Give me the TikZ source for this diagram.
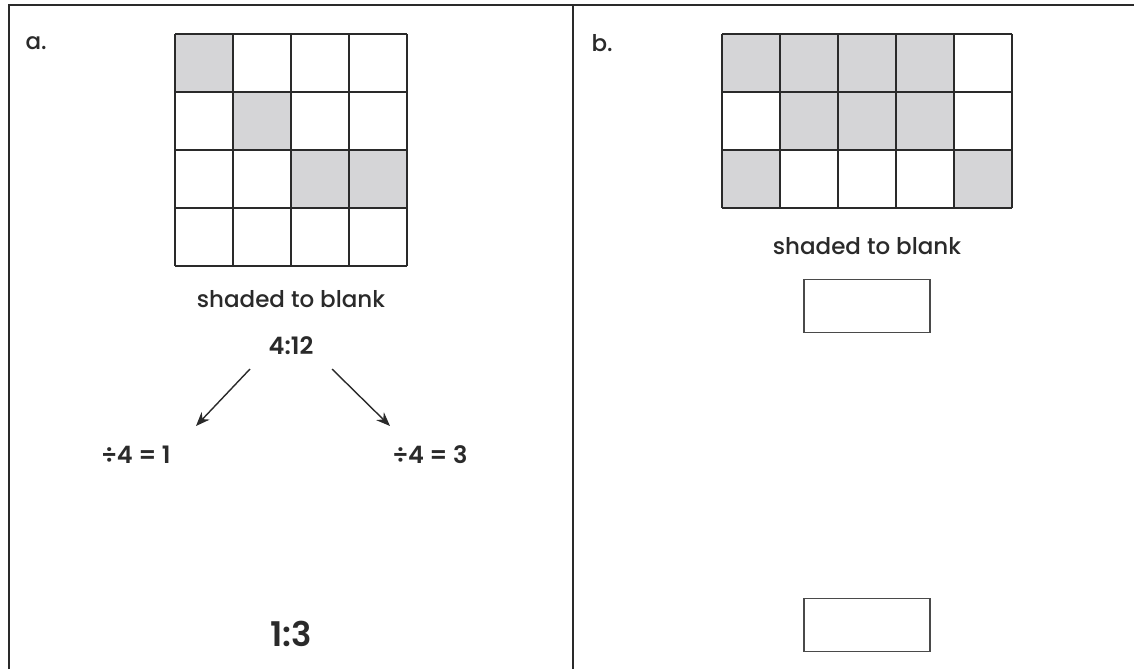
\documentclass[tikz,border=0pt]{standalone}
\usepackage{fontspec}
\setmainfont{Poppins}
\newfontfamily\medfont{Poppins Medium}
\newfontfamily\semifont{Poppins SemiBold}
\usetikzlibrary{arrows.meta}
\definecolor{shade}{HTML}{D5D5D7}
\definecolor{ink}{HTML}{2A2A2A}
\tikzset{
  frame/.style={draw=ink, line width=2pt},
  gridline/.style={draw=ink, line width=1.8pt},
  cellshade/.style={fill=shade},
  ansbox/.style={draw=ink!85, line width=1.4pt, minimum width=126pt, minimum height=53pt, inner sep=0pt},
  lbl/.style={font=\fontsize{23}{26}\selectfont\medfont, text=ink},
  caption/.style={font=\fontsize{23}{26}\selectfont\medfont, text=ink},
  calc/.style={font=\fontsize{24}{28}\selectfont\semifont, text=ink},
  big/.style={font=\fontsize{34}{38}\selectfont\semifont, text=ink},
  arr/.style={draw=ink, line width=1.4pt, -{Stealth[length=14pt,width=11pt]}}
}
\begin{document}
\begin{tikzpicture}[x=1pt,y=-1pt]
\useasboundingbox (0,0) rectangle (1134,669);
\fill[white] (0,0) rectangle (1134,669);
% frame
\draw[frame] (9,669) -- (9,5.5) -- (1134,5.5);
\draw[frame] (573,5.5) -- (573,669);
% labels
\node[lbl, anchor=west] (la) at (22,43) {a.};
\node[lbl, anchor=west] (lb) at (588,43) {b.};
% grid a (4x4), cell 58
\foreach \c/\r in {0/0,1/1,2/2,3/2}
  \fill[cellshade] (175+58*\c,34+58*\r) rectangle ++(58,58);
\foreach \i in {0,...,4} {
  \draw[gridline] (175+58*\i,34) -- (175+58*\i,266);
  \draw[gridline] (175,34+58*\i) -- (407,34+58*\i);
}
\node[caption] (capa) at (291,299) {shaded to blank};
\node[calc] (r412) at (291,346) {4:12};
\node[calc] (d1) at (136,455) {÷4 = 1};
\node[calc] (d3) at (430,455) {÷4 = 3};
\coordinate (s1) at (250,369);
\coordinate (e1) at (196,426);
\coordinate (s2) at (332,369);
\coordinate (e2) at (390,426);
\draw[arr] (s1) -- (e1);
\draw[arr] (s2) -- (e2);
\node[big] (res) at (291,634) {1:3};
% grid b (5x3)
\foreach \c/\r in {0/0,1/0,2/0,3/0,1/1,2/1,3/1,0/2,4/2}
  \fill[cellshade] (722+58*\c,34+58*\r) rectangle ++(58,58);
\foreach \i in {0,...,5}
  \draw[gridline] (722+58*\i,34) -- (722+58*\i,208);
\foreach \i in {0,...,3}
  \draw[gridline] (722,34+58*\i) -- (1012,34+58*\i);
\node[caption] (capb) at (867,246) {shaded to blank};
\node[ansbox] (box1) at (867,306) {};
\node[ansbox] (box2) at (867,625) {};
\end{tikzpicture}
\end{document}
